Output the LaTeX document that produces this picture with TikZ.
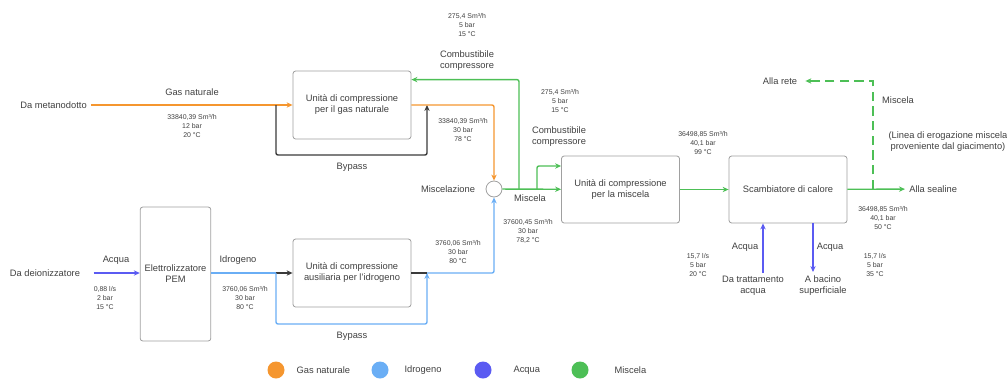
\documentclass[tikz,border=0pt]{standalone}
\usepackage{fontspec}
\setmainfont{Liberation Sans}
\usetikzlibrary{arrows.meta,calc}

\definecolor{gasC}{HTML}{F5962F}
\definecolor{hydC}{HTML}{6AAEF5}
\definecolor{watC}{HTML}{5B5BF2}
\definecolor{mixC}{HTML}{4DBF56}
\definecolor{darkC}{HTML}{3A3A3A}
\definecolor{boxC}{HTML}{A0A0A0}
\definecolor{txtC}{HTML}{404040}

\newcommand{\labfont}{\fontsize{7}{8.25}\selectfont}
\newcommand{\valfont}{\fontsize{5.2}{6.75}\selectfont}

\tikzset{
  unit/.style={draw=boxC, line width=0.6pt, rounded corners=2pt, fill=white,
    align=center, font=\labfont, text=txtC, minimum width=88.5pt, minimum height=51pt},
  txt/.style={font=\labfont, text=txtC, align=center, inner sep=1pt},
  ends/.style={txt, inner sep=3pt},
  vals/.style={font=\valfont, text=txtC, align=center, inner sep=0pt},
  flow/.style={line width=1.05pt, rounded corners=1.5pt},
  gas/.style={flow, draw=gasC},
  hyd/.style={flow, draw=hydC},
  wat/.style={flow, draw=watC},
  mix/.style={flow, draw=mixC},
  byp/.style={flow, draw=darkC},
}

\begin{document}
\begin{tikzpicture}[x=0.75pt, y=-0.75pt, >={Stealth[length=4.5pt, width=4pt]}]
  \useasboundingbox (0,0) rectangle (1007,379);
  % units
  \node[unit] (gnbox) at (352,105) {Unità di compressione\\per il gas naturale};
  \node[unit] (h2box) at (352,273) {Unità di compressione\\ausiliaria per l'idrogeno};
  \node[unit, minimum height=50.25pt] (mixbox) at (620.5,189.5) {Unità di compressione\\per la miscela};
  \node[unit, minimum height=50.25pt] (hxbox) at (788,189.5) {Scambiatore di calore};
  \node[unit, minimum width=50.25pt, minimum height=100.5pt] (pem) at (175.5,274) {Elettrolizzatore\\PEM};
  \node[circle, draw=boxC, line width=0.6pt, fill=white, minimum size=12pt, inner sep=0pt] (mixer) at (494,189) {};
  % sources and sinks
  \node[ends] (metano) at (53.5,105) {Da metanodotto};
  \node[ends] (deion) at (45,273) {Da deionizzatore};
  \node[ends, anchor=west] (sealine) at (905,189) {Alla sealine};
  \node[ends] (rete) at (780,81) {Alla rete};
  \node[txt] (tratt) at (753,285.5) {Da trattamento\\acqua};
  \node[txt] (bacino) at (823,285.5) {A bacino\\superficiale};
  \coordinate (gnsplit) at (276,105);
  \coordinate (gnjoin) at (427,105);
  \coordinate (h2split) at (276,273);
  \coordinate (h2join) at (427,273);
  \coordinate (fuel) at (519,189);
  \coordinate (mixtap) at (537,189);
  \coordinate (retetap) at (873,189);
  \coordinate (watin) at (763,273);
  \coordinate (watout) at (813,272);

  % natural gas line
  \draw[gas] (metano) -- (gnsplit);
  \draw[gas,->] (gnsplit) -- (gnbox);
  \draw[byp,->] (gnsplit) -- ++(0,50) -| (gnjoin);
  \draw[gas,->] (gnbox.east) -| (mixer.north);
  % hydrogen line
  \draw[wat,->] ([xshift=7pt]deion.east) -- (deion -| pem.west);
  \draw[hyd] (pem.east |- h2split) -- (h2split);
  \draw[byp,->] (h2split) -- (h2box);
  \draw[hyd,->] (h2split) -- ++(0,51) -| (h2join);
  \draw[byp] (h2box.east) -- (h2join);
  \draw[hyd,->] (h2join) -| (mixer.south);
  % mixture
  \draw[mix,->] (mixer) -- (mixbox);
  \draw[mix,->] (fuel) |- ($(gnbox.north east)+(0,9)$);
  \draw[mix,->] (mixtap) |- ($(mixbox.west)+(0,-23.5)$);
  \draw[mix,->] (mixbox) -- (hxbox);
  \draw[mix,->] (hxbox) -- (sealine);
  \draw[mix, dashed, dash pattern=on 7pt off 4pt, rounded corners=0pt, shorten >=3pt,->] (retetap) |- (rete);
  % cooling water
  \draw[wat,->] (watin) -- (watin |- hxbox.south);
  \draw[wat,->] (hxbox.south -| watout) -- (watout);

  % labels
  \node[txt] (lgas) at (192,92) {Gas naturale};
  \node[txt] (lbyp1) at (352,167) {Bypass};
  \node[txt] (lbyp2) at (352,336) {Bypass};
  \node[txt] (lfuel1) at (467,60.5) {Combustibile\\compressore};
  \node[txt] (lfuel2) at (559,136.5) {Combustibile\\compressore};
  \node[txt] (lmixer) at (448,189) {Miscelazione};
  \node[txt] (lmix1) at (530,198) {Miscela};
  \node[txt] (lmix2) at (898,100) {Miscela};
  \node[txt] (lline) at (948,141.5) {(Linea di erogazione miscela\\proveniente dal giacimento)};
  \node[txt] (lwat1) at (745,247) {Acqua};
  \node[txt] (lwat2) at (830,247) {Acqua};
  \node[txt] (lwat3) at (116,260) {Acqua};
  \node[txt] (lhyd) at (238,260) {Idrogeno};

  % stream data
  \foreach \x/\y/\q/\p/\t [count=\i] in {
      192/126/{33840,39 Sm³/h}/12/20, 463/130/{33840,39 Sm³/h}/30/78,
      467/25/{275,4 Sm³/h}/5/15, 560/101/{275,4 Sm³/h}/5/15,
      528/231/{37600,45 Sm³/h}/30/{78,2}, 703/143/{36498,85 Sm³/h}/{40,1}/99,
      883/218/{36498,85 Sm³/h}/{40,1}/50, 698/265/{15,7 l/s}/5/20,
      875/265/{15,7 l/s}/5/35, 105/298/{0,88 l/s}/2/15,
      245/298/{3760,06 Sm³/h}/30/80, 458/252/{3760,06 Sm³/h}/30/80}
    \node[vals] (val\i) at (\x,\y) {\q\\\p{} bar\\\t{} °C};

  % legend
  \foreach \x/\lx/\c/\t [count=\i] in {276/295/gasC/Gas naturale, 380/403/hydC/Idrogeno,
      483/512/watC/Acqua, 580/613/mixC/Miscela} {
    \node[circle, fill=\c, minimum size=12.75pt, inner sep=0pt] (key\i) at (\x,370) {};
    \node[txt, anchor=west] (keytxt\i) at (\lx,370) {\t};
  }
\end{tikzpicture}
\end{document}
